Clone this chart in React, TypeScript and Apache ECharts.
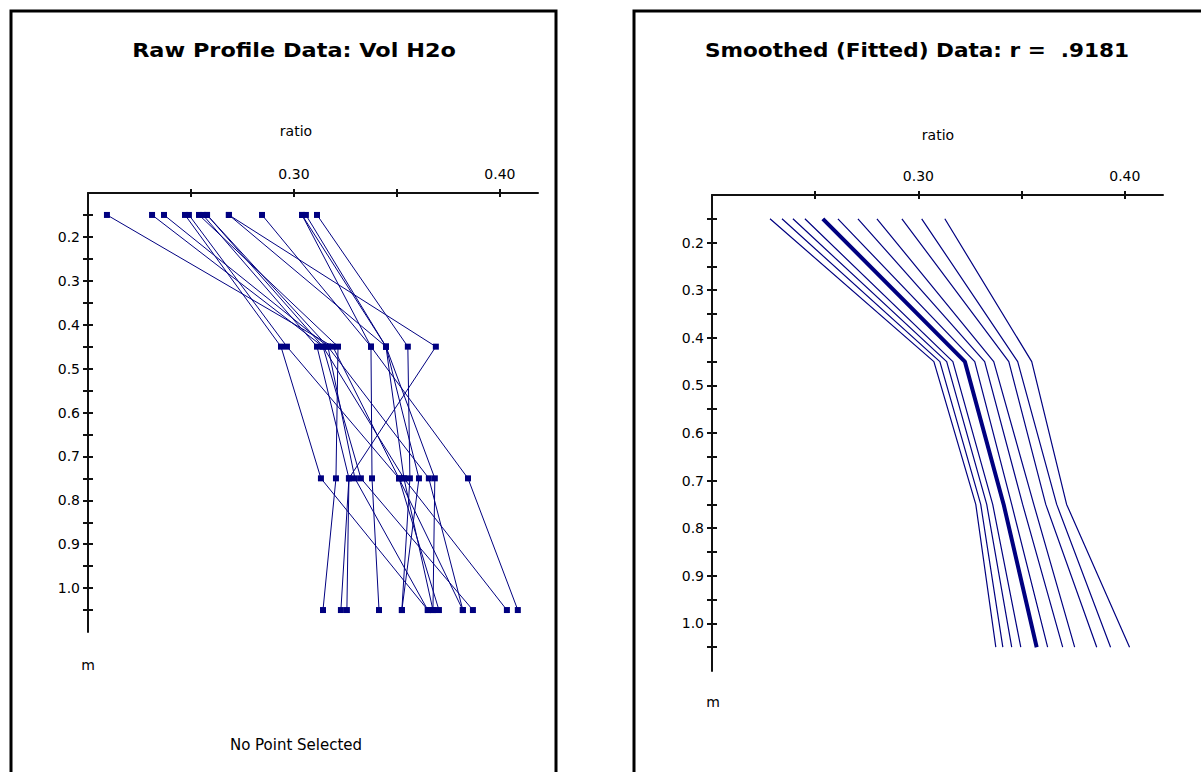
import React, { useEffect, useRef } from "react";
import * as echarts from "echarts";

// ---- data ----
const depths = [0.15, 0.45, 0.75, 1.05];

const rawP01 = [0.2092, 0.3189, 0.351, 0.3704];
const rawP02 = [0.2311, 0.3141, 0.3534, 0.3675];
const rawP03 = [0.2369, 0.3165, 0.3296, 0.365];
const rawP04 = [0.2471, 0.2937, 0.3131, 0.365];
const rawP05 = [0.249, 0.2966, 0.351, 0.382];
const rawP06 = [0.2539, 0.3214, 0.3204, 0.3141];
const rawP07 = [0.2558, 0.3112, 0.3267, 0.3257];
const rawP08 = [0.2578, 0.3141, 0.3325, 0.3869];
const rawP09 = [0.2684, 0.3689, 0.3267, 0.3228];
const rawP10 = [0.2845, 0.3374, 0.3379, 0.3413];
const rawP11 = [0.3039, 0.3447, 0.3534, 0.4034];
const rawP12 = [0.3058, 0.3447, 0.3607, 0.3524];
const rawP13 = [0.3112, 0.3553, 0.3563, 0.3524];
const rawP14 = [0.3039, 0.3374, 0.3845, 0.4087];
const rawP15 = [0.2684, 0.3447, 0.3684, 0.3675];
const rawP16 = [0.2578, 0.3165, 0.3655, 0.382];
const rawProfiles = [
  rawP01, rawP02, rawP03, rawP04, rawP05, rawP06, rawP07, rawP08,
  rawP09, rawP10, rawP11, rawP12, rawP13, rawP14, rawP15, rawP16,
];

const fitP01 = [0.2281, 0.3075, 0.3278, 0.3375];
const fitP02 = [0.2339, 0.3104, 0.3302, 0.3409];
const fitP03 = [0.2392, 0.3137, 0.3331, 0.3452];
const fitP04 = [0.245, 0.3167, 0.336, 0.3496];
const fitMean = [0.2537, 0.3225, 0.3413, 0.3573];
const fitP06 = [0.261, 0.3273, 0.3452, 0.3626];
const fitP07 = [0.2707, 0.3321, 0.3505, 0.3699];
const fitP08 = [0.2799, 0.3365, 0.3559, 0.3757];
const fitP09 = [0.292, 0.3438, 0.3617, 0.3864];
const fitP10 = [0.3016, 0.3481, 0.367, 0.3931];
const fitP11 = [0.3128, 0.3549, 0.3718, 0.4023];
const fittedProfiles = [
  fitP01, fitP02, fitP03, fitP04, fitMean, fitP06, fitP07, fitP08, fitP09, fitP10, fitP11,
];
const boldFittedIndex = 4;

const ratioTicks = [0.25, 0.3, 0.35, 0.4];
const ratioLabels = [0.3, 0.4];
const depthTicks = [0.15, 0.2, 0.25, 0.3, 0.35, 0.4, 0.45, 0.5, 0.55, 0.6, 0.65, 0.7, 0.75, 0.8, 0.85, 0.9, 0.95, 1.0, 1.05];
const depthLabels = [0.2, 0.3, 0.4, 0.5, 0.6, 0.7, 0.8, 0.9, 1.0];

const leftTitle = "Raw Profile Data: Vol H2o";
const rightTitle = "Smoothed (Fitted) Data: r =  .9181";
const xName = "ratio";
const yName = "m";
const statusText = "No Point Selected";

// ---- styles ----
const NAVY = "#000080";
const FONT = "'DejaVu Sans', 'Liberation Sans', Arial, sans-serif";
const X_MIN = 0.2;
const X_MAX = 0.4185;
const Y_MIN = 0.1;
const Y_MAX = 1.1;

const near = (v: number, list: number[]) => list.some((t) => Math.abs(t - v) < 1e-6);

function makeX(gridIndex: number, inside: boolean) {
  return {
    type: "value",
    gridIndex,
    position: "top",
    min: X_MIN,
    max: X_MAX,
    interval: 0.05,
    splitLine: { show: false },
    axisLine: { show: !inside, onZero: false, lineStyle: { color: "#111", width: 2 } },
    axisTick: {
      show: true,
      inside,
      length: 4,
      customValues: ratioTicks,
      lineStyle: { color: "#111", width: 2 },
    },
    axisLabel: {
      show: !inside,
      customValues: ratioLabels,
      margin: 12,
      color: "#000",
      fontSize: 14,
      fontFamily: FONT,
      formatter: (v: number) => (near(v, ratioLabels) ? v.toFixed(2) : ""),
    },
  };
}

function makeY(gridIndex: number, inside: boolean) {
  return {
    type: "value",
    gridIndex,
    position: "left",
    inverse: true,
    min: Y_MIN,
    max: Y_MAX,
    interval: 0.05,
    splitLine: { show: false },
    axisLine: { show: !inside, onZero: false, lineStyle: { color: "#111", width: 2 } },
    axisTick: {
      show: true,
      inside,
      length: 5,
      customValues: depthTicks,
      lineStyle: { color: "#111", width: 2 },
    },
    axisLabel: {
      show: !inside,
      customValues: depthLabels,
      margin: 8,
      color: "#000",
      fontSize: 14,
      fontFamily: FONT,
      formatter: (v: number) => (near(v, depthLabels) ? v.toFixed(1) : ""),
    },
  };
}

export default function App() {
  const ref = useRef<HTMLDivElement>(null);

  useEffect(() => {
    if (!ref.current) return;
    const chart = echarts.init(ref.current, undefined, { renderer: "svg" });

    const rawSeries = rawProfiles.map((p, k) => ({
      type: "line",
      name: "raw" + (k + 1),
      xAxisIndex: 0,
      yAxisIndex: 0,
      data: depths.map((d, i) => [p[i], d]),
      symbol: "rect",
      symbolSize: 6,
      lineStyle: { color: NAVY, width: 1 },
      itemStyle: { color: NAVY },
      silent: true,
      z: 3,
    }));

    const fitSeries = fittedProfiles.map((p, k) => ({
      type: "line",
      name: "fit" + (k + 1),
      xAxisIndex: 2,
      yAxisIndex: 2,
      data: depths.map((d, i) => [p[i], d]),
      symbol: "none",
      lineStyle: { color: NAVY, width: k === boldFittedIndex ? 4 : 1.2 },
      silent: true,
      z: k === boldFittedIndex ? 4 : 3,
    }));

    const textStyle = (size: number, bold = false) => ({
      fill: "#000",
      fontSize: size,
      fontWeight: bold ? "bold" : "normal",
      fontFamily: FONT,
      align: "center",
      verticalAlign: "middle",
    });

    chart.setOption({
      animation: false,
      backgroundColor: "#fff",
      grid: [
        { left: 88, top: 193, width: 450, height: 439 },
        { left: 712, top: 195, width: 451, height: 476 },
      ],
      xAxis: [makeX(0, false), makeX(0, true), makeX(1, false), makeX(1, true)],
      yAxis: [makeY(0, false), makeY(0, true), makeY(1, false), makeY(1, true)],
      series: [...rawSeries, ...fitSeries],
      graphic: [
        {
          type: "rect",
          shape: { x: 11, y: 11, width: 545, height: 800 },
          style: { fill: "none", stroke: "#000", lineWidth: 3 },
          silent: true,
        },
        {
          type: "rect",
          shape: { x: 634, y: 11, width: 600, height: 800 },
          style: { fill: "none", stroke: "#000", lineWidth: 3 },
          silent: true,
        },
        { type: "text", x: 294, y: 50, scaleX: 1.12, style: { text: leftTitle, ...textStyle(20, true) } },
        { type: "text", x: 917, y: 50, scaleX: 1.08, style: { text: rightTitle, ...textStyle(20, true) } },
        { type: "text", x: 296, y: 131, style: { text: xName, ...textStyle(14) } },
        { type: "text", x: 938, y: 135, style: { text: xName, ...textStyle(14) } },
        { type: "text", x: 88, y: 665, style: { text: yName, ...textStyle(14) } },
        { type: "text", x: 713, y: 702, style: { text: yName, ...textStyle(14) } },
        { type: "text", x: 296, y: 745, style: { text: statusText, ...textStyle(15) } },
      ],
    });

    return () => chart.dispose();
  }, []);

  return (
    <div
      ref={ref}
      style={{ position: "fixed", left: 0, top: 0, width: 1201, height: 772, background: "#fff" }}
    />
  );
}
